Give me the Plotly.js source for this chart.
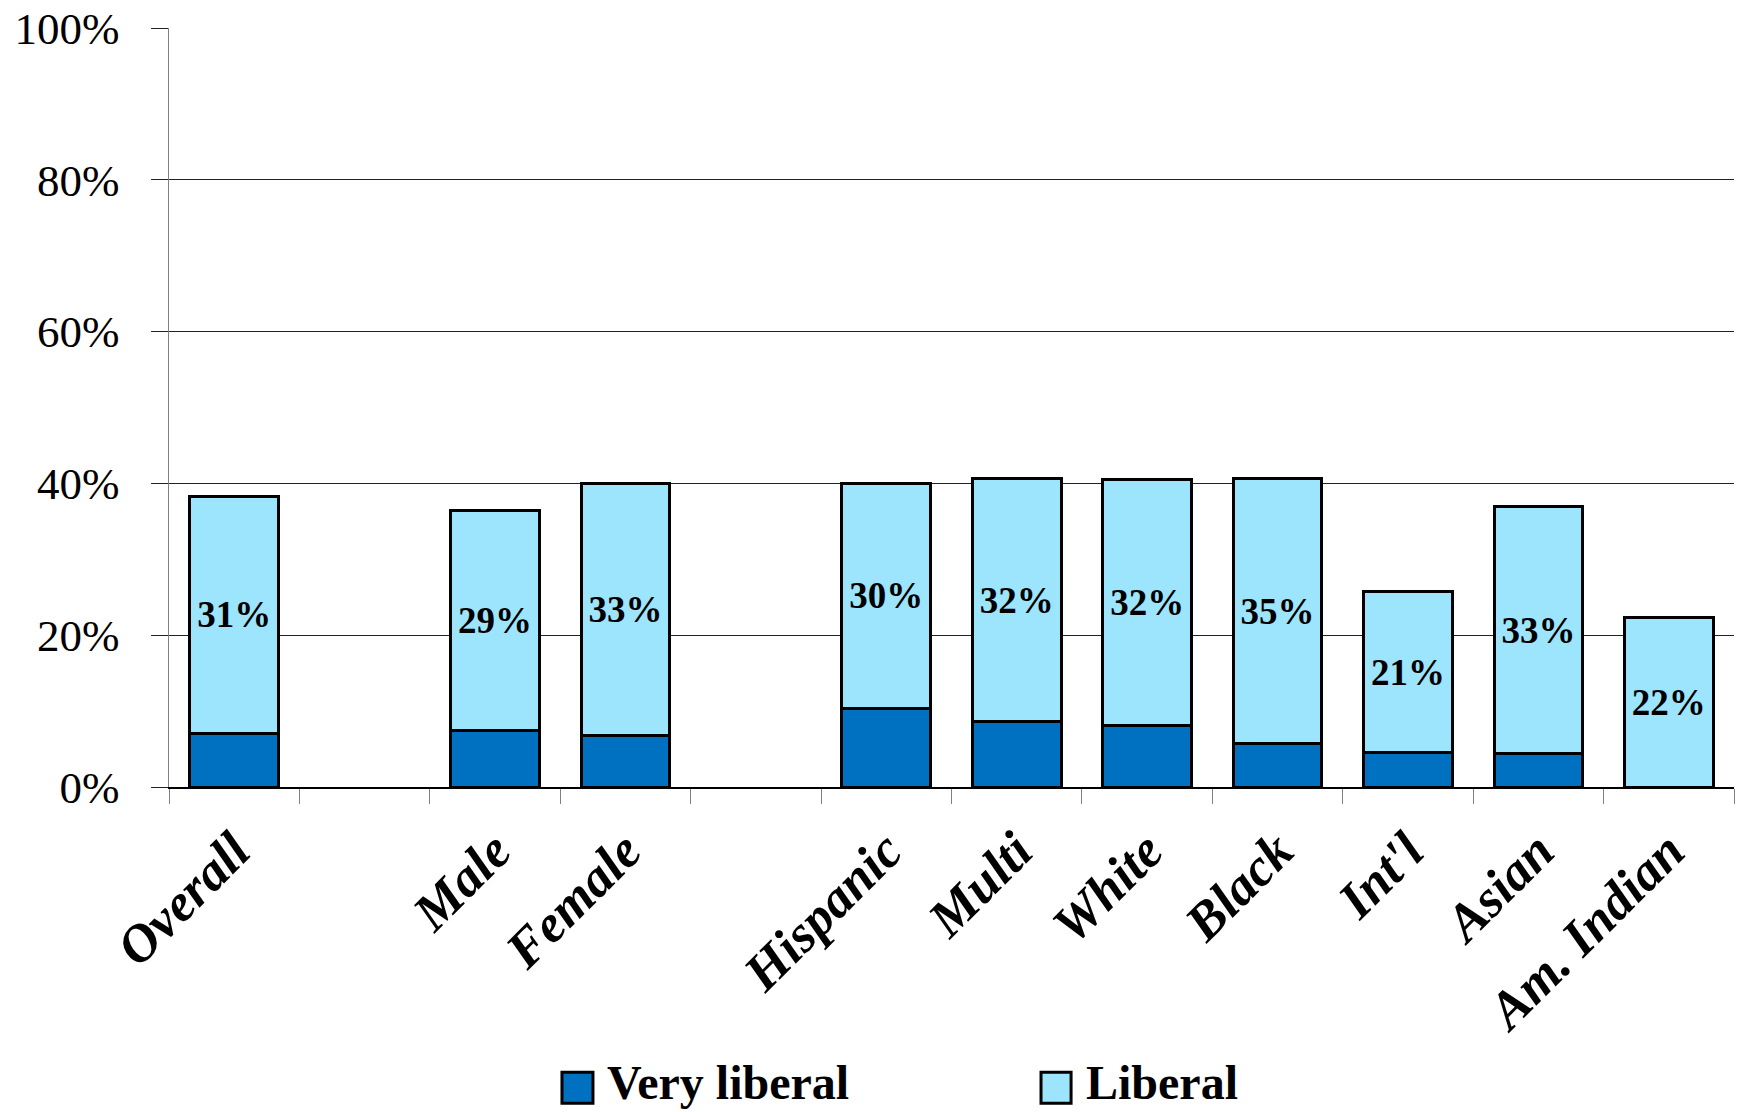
<!DOCTYPE html>
<html>
<head>
<meta charset="utf-8">
<script src="https://cdn.plot.ly/plotly-3.0.1.min.js"></script>
<style>
  html, body { margin: 0; padding: 0; background: #fff; }
  #chart { width: 1738px; height: 1112px; }
</style>
</head>
<body>
<div id="chart"></div>
<script>
// Categories (blank slots are spacer columns in the original chart)
const categories = ['Overall', ' ', 'Male', 'Female', '  ', 'Hispanic', 'Multi', 'White', 'Black', "Int'l", 'Asian', 'Am. Indian'];
const tickLabels = ['Overall', '', 'Male', 'Female', '', 'Hispanic', 'Multi', 'White', 'Black', "Int'l", 'Asian', 'Am. Indian'];

// Series values (percent)
const veryLiberal = [7.1, null, 7.4, 6.8, null, 10.4, 8.6, 8.1, 5.7, 4.5, 4.4, 0];
const liberal     = [31.2, null, 29.0, 33.2, null, 29.6, 32.0, 32.4, 34.9, 21.3, 32.5, 22.3];
const liberalLabels = ['31%', '', '29%', '33%', '', '30%', '32%', '32%', '35%', '21%', '33%', '22%'];

const seriesNames = ['Very liberal', 'Liberal'];
const yTicks = [0, 20, 40, 60, 80, 100];
const yTickLabels = ['0%', '20%', '40%', '60%', '80%', '100%'];

const FONT = 'Liberation Serif, Times New Roman, serif';
const darkBlue = '#0070C0';
const lightBlue = '#9DE5FD';

const traces = [
  {
    type: 'bar',
    name: seriesNames[0],
    x: categories,
    y: veryLiberal,
    marker: { color: darkBlue, line: { color: '#000', width: 3 } },
    hoverinfo: 'skip'
  },
  {
    type: 'bar',
    name: seriesNames[1],
    x: categories,
    y: liberal,
    text: liberalLabels,
    texttemplate: '%{text}',
    textposition: 'inside',
    insidetextanchor: 'middle',
    textangle: 0,
    constraintext: 'none',
    textfont: { family: FONT, size: 37, color: '#000', weight: 'bold' },
    marker: { color: lightBlue, line: { color: '#000', width: 3 } },
    hoverinfo: 'skip'
  }
];

// legend drawn in paper coordinates
const legendShapes = [
  { type: 'rect', xref: 'paper', yref: 'paper', x0: 0.2511, x1: 0.2709, y0: -0.4166, y1: -0.3757,
    fillcolor: darkBlue, line: { color: '#000', width: 3 } },
  { type: 'rect', xref: 'paper', yref: 'paper', x0: 0.5572, x1: 0.5764, y0: -0.4166, y1: -0.3757,
    fillcolor: lightBlue, line: { color: '#000', width: 3 } }
];
const legendAnn = [
  { xref: 'paper', yref: 'paper', x: 0.2786, y: -0.389, xanchor: 'left', yanchor: 'middle', showarrow: false,
    text: seriesNames[0], font: { family: FONT, size: 48, color: '#000', weight: 'bold' } },
  { xref: 'paper', yref: 'paper', x: 0.5847, y: -0.389, xanchor: 'left', yanchor: 'middle', showarrow: false,
    text: seriesNames[1], font: { family: FONT, size: 48, color: '#000', weight: 'bold' } }
];

const layout = {
  width: 1738,
  height: 1112,
  paper_bgcolor: '#fff',
  plot_bgcolor: '#fff',
  barmode: 'stack',
  bargap: 0.32,
  showlegend: false,
  margin: { l: 169, r: 4, t: 28, b: 325 },
  xaxis: {
    type: 'category',
    categoryorder: 'array',
    categoryarray: categories,
    tickvals: categories,
    ticktext: tickLabels,
    tickson: 'boundaries',
    ticks: 'outside',
    ticklen: 15,
    tickcolor: '#808080',
    tickwidth: 1,
    tickangle: -45,
    ticklabelstandoff: 10,
    tickfont: { family: FONT, size: 53, color: '#000', weight: 'bold', style: 'italic' },
    showline: true,
    linecolor: '#000',
    linewidth: 1.5,
    showgrid: false,
    zeroline: false,
    fixedrange: true
  },
  yaxis: {
    range: [0, 100],
    tickvals: yTicks,
    ticktext: yTickLabels,
    ticks: 'outside',
    ticklen: 17,
    tickcolor: '#222',
    tickwidth: 1,
    tickfont: { family: FONT, size: 45, color: '#000' },
    ticklabelstandoff: 22,
    showgrid: true,
    gridcolor: '#222',
    gridwidth: 1,
    showline: true,
    linecolor: '#808080',
    linewidth: 1.5,
    zeroline: false,
    fixedrange: true
  },
  shapes: legendShapes,
  annotations: legendAnn
};

Plotly.newPlot('chart', traces, layout, { displayModeBar: false, staticPlot: true });
</script>
</body>
</html>
